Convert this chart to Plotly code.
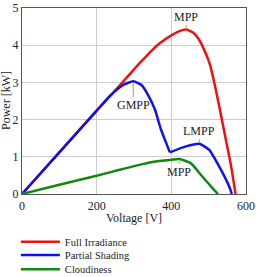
import plotly.graph_objects as go

# Data
full_v = [0, 100, 200, 271, 300, 324, 342, 369, 401, 422, 440, 458, 476, 489, 503, 516, 527, 546, 560, 572]
full_p = [0, 1.12, 2.24, 3.02, 3.35, 3.61, 3.80, 4.05, 4.27, 4.38, 4.42, 4.34, 4.12, 3.85, 3.49, 2.95, 2.42, 1.46, 0.75, 0]

shade_v1 = [0, 100, 200, 235, 271, 298, 320, 340, 356, 372, 385, 396]
shade_p1 = [0, 1.12, 2.24, 2.63, 2.93, 3.03, 2.93, 2.62, 2.27, 1.74, 1.40, 1.12]
shade_v2 = [396, 439, 475, 501, 528, 555, 562]
shade_p2 = [1.12, 1.28, 1.35, 1.19, 0.74, 0.20, 0]

cloud_v = [0, 100, 200, 261, 300, 350, 400, 421, 452, 483, 510, 525]
cloud_p = [0, 0.25, 0.49, 0.65, 0.75, 0.86, 0.92, 0.94, 0.83, 0.47, 0.16, 0]

series_names = ["Full Irradiance", "Partial Shading", "Cloudiness"]
x_ticks = [0, 200, 400, 600]
y_ticks = [0, 1, 2, 3, 4, 5]
x_title = "Voltage [V]"
y_title = "Power [kW]"

peaks = [  # label, voltage, power, offset
    ("MPP", 440, 4.42, -13),
    ("GMPP", 298, 3.03, 24),
    ("LMPP", 475, 1.35, -13),
    ("MPP", 421, 0.94, 13),
]

FONT = "Liberation Serif"
RED, BLUE, GREEN = "#ee1111", "#1111ee", "#118811"

fig = go.Figure()
fig.add_trace(go.Scatter(x=full_v, y=full_p, mode="lines", name=series_names[0],
                         line=dict(color=RED, width=2.5, shape="spline", smoothing=0.5),
                         legend="legend"))
fig.add_trace(go.Scatter(x=shade_v1, y=shade_p1, mode="lines", name=series_names[1],
                         line=dict(color=BLUE, width=2.5, shape="spline", smoothing=0.5),
                         legend="legend2", legendgroup="ps"))
fig.add_trace(go.Scatter(x=shade_v2, y=shade_p2, mode="lines", name=series_names[1],
                         line=dict(color=BLUE, width=2.5, shape="spline", smoothing=0.5),
                         legend="legend2", legendgroup="ps", showlegend=False))
fig.add_trace(go.Scatter(x=cloud_v, y=cloud_p, mode="lines", name=series_names[2],
                         line=dict(color=GREEN, width=2.5, shape="spline", smoothing=0.5),
                         legend="legend3"))

for label, v, p, off in peaks:
    fig.add_annotation(x=v, y=p, text=label, showarrow=True, arrowhead=0,
                       arrowcolor="#999", arrowwidth=1, ax=0, ay=off, standoff=2,
                       font=dict(family=FONT, size=12, color="#222"))

# axis titles
fig.add_annotation(xref="paper", yref="paper", x=0.5, y=0, yshift=-24, text=x_title,
                   showarrow=False, xanchor="center", yanchor="middle",
                   font=dict(family=FONT, size=12, color="#222"))
fig.add_annotation(xref="paper", yref="paper", x=0, y=0.5, xshift=-16, text=y_title,
                   textangle=-90, showarrow=False, xanchor="center", yanchor="middle",
                   font=dict(family=FONT, size=12, color="#222"))

leg_common = dict(font=dict(family=FONT, size=10.5, color="#222"), itemwidth=39,
                  bgcolor="rgba(0,0,0,0)", x=0.062, xref="container", xanchor="left",
                  yref="container", yanchor="middle", visible=True)

fig.update_layout(
    width=256, height=277,
    showlegend=True,
    margin=dict(l=22, r=10, t=8, b=83, autoexpand=False),
    paper_bgcolor="white", plot_bgcolor="white",
    font=dict(family=FONT, size=12, color="#222"),
    legend=dict(y=1 - 241.7 / 277, **leg_common),
    legend2=dict(y=1 - 255.0 / 277, **leg_common),
    legend3=dict(y=1 - 269.3 / 277, **leg_common),
    xaxis=dict(range=[0, 600], tickvals=x_ticks, showgrid=True, gridcolor="#cccccc",
               showline=True, linecolor="#555", linewidth=1.3, mirror=True, automargin=False,
               ticks="", zeroline=False, tickfont=dict(family=FONT, size=12)),
    yaxis=dict(range=[0, 5], tickvals=y_ticks, showgrid=True, gridcolor="#cccccc",
               showline=True, linecolor="#555", linewidth=1.3, mirror=True, automargin=False,
               ticks="", zeroline=False, tickfont=dict(family=FONT, size=12)),
)

fig.write_html("out.html")
